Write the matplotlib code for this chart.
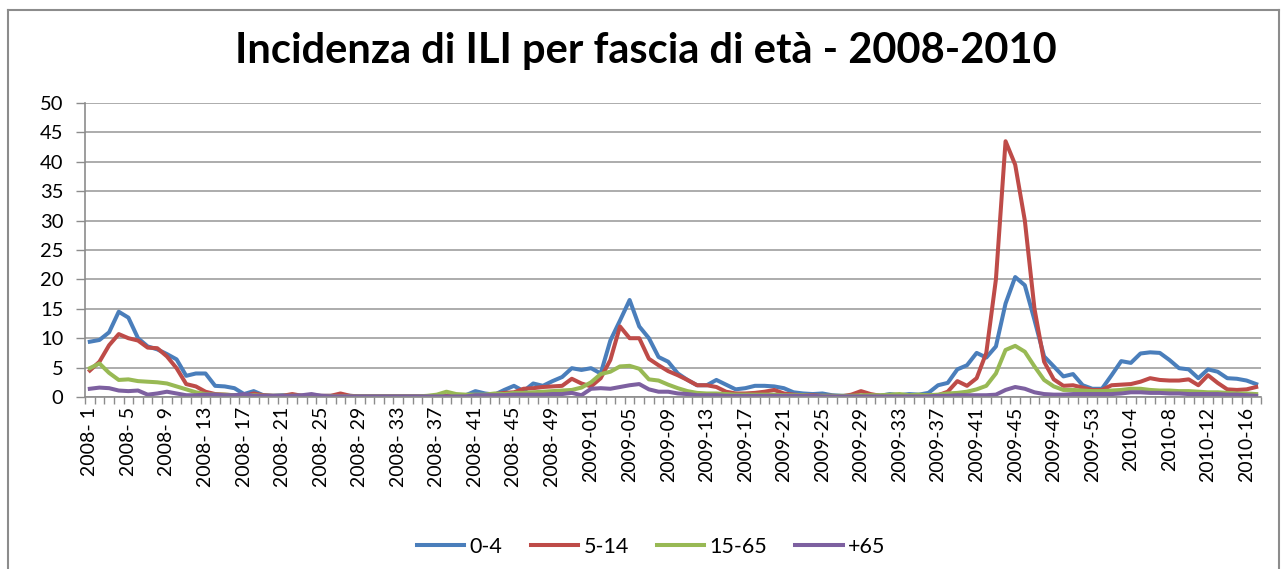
import matplotlib
matplotlib.use("Agg")
import matplotlib.pyplot as plt
from matplotlib.lines import Line2D
import numpy as np

plt.rcParams['font.family'] = ['Lato', 'DejaVu Sans']

# settimane: 2008 (52), 2009 (53), 2010 (17)
weeks = (["2008- %d" % w for w in range(1, 53)]
         + ["2009-%02d" % w for w in range(1, 54)]
         + ["2010-%d" % w for w in range(1, 18)])

eta_0_4 = [
    9.4, 9.7, 11.0, 14.5, 13.5, 10.0, 8.6, 8.1, 7.3, 6.4,
    3.6, 4.0, 4.0, 1.9, 1.8, 1.5, 0.5, 1.0, 0.3, 0.2,
    0.3, 0.2, 0.2, 0.3, 0.2, 0.2, 0.2, 0.2, 0.1, 0.1,
    0.1, 0.1, 0.1, 0.1, 0.1, 0.1, 0.2, 0.2, 0.3, 0.3,
    1.0, 0.6, 0.4, 1.2, 1.9, 1.0, 2.3, 1.9, 2.7, 3.4,
    4.9, 4.6, 4.9, 4.0, 9.6, 13.0, 16.5, 12.0, 10.0, 6.8,
    6.0, 4.0, 2.9, 2.0, 2.0, 2.9, 2.1, 1.3, 1.5, 1.9,
    1.9, 1.8, 1.5, 0.8, 0.6, 0.5, 0.6, 0.3, 0.2, 0.2,
    0.2, 0.3, 0.2, 0.5, 0.3, 0.5, 0.4, 0.7, 2.0, 2.4,
    4.7, 5.4, 7.5, 6.7, 8.6, 15.9, 20.4, 19.0, 13.1, 6.9,
    5.2, 3.5, 3.9, 2.0, 1.4, 1.4, 3.7, 6.1, 5.8, 7.4,
    7.6, 7.5, 6.3, 4.9, 4.7, 3.2, 4.7, 4.3, 3.2, 3.1,
    2.8, 2.2]

eta_5_14 = [
    4.5, 6.0, 8.8, 10.7, 10.0, 9.6, 8.4, 8.3, 6.9, 4.9,
    2.2, 1.8, 0.9, 0.5, 0.4, 0.3, 0.2, 0.6, 0.3, 0.2,
    0.2, 0.5, 0.2, 0.2, 0.2, 0.2, 0.6, 0.2, 0.1, 0.1,
    0.1, 0.1, 0.1, 0.1, 0.1, 0.1, 0.1, 0.2, 0.2, 0.2,
    0.3, 0.3, 0.5, 0.7, 0.8, 1.4, 1.5, 1.7, 1.8, 1.9,
    3.1, 2.3, 1.8, 3.2, 6.3, 12.0, 10.0, 10.0, 6.5, 5.4,
    4.4, 3.7, 2.9, 2.0, 2.0, 1.7, 0.9, 0.6, 0.6, 0.7,
    0.9, 1.2, 0.6, 0.4, 0.3, 0.3, 0.2, 0.2, 0.1, 0.4,
    1.0, 0.5, 0.2, 0.2, 0.2, 0.2, 0.3, 0.3, 0.3, 0.9,
    2.7, 1.9, 3.2, 7.5, 20.0, 43.5, 39.5, 30.0, 15.0, 6.0,
    3.0, 1.9, 2.0, 1.6, 1.2, 1.2, 2.0, 2.1, 2.2, 2.6,
    3.2, 2.9, 2.8, 2.8, 3.0, 2.0, 3.7, 2.4, 1.3, 1.2,
    1.3, 1.7]

eta_15_65 = [
    4.9, 5.7, 4.1, 2.9, 3.0, 2.7, 2.6, 2.5, 2.3, 1.8,
    1.3, 0.8, 0.5, 0.4, 0.4, 0.3, 0.3, 0.3, 0.2, 0.2,
    0.2, 0.2, 0.2, 0.1, 0.1, 0.1, 0.1, 0.1, 0.1, 0.1,
    0.1, 0.1, 0.1, 0.1, 0.1, 0.2, 0.4, 0.9, 0.5, 0.4,
    0.4, 0.4, 0.6, 0.5, 0.7, 0.7, 0.8, 0.9, 1.0, 1.1,
    1.2, 1.6, 2.5, 3.9, 4.3, 5.2, 5.3, 4.8, 3.0, 2.8,
    2.1, 1.5, 1.0, 0.7, 0.6, 0.6, 0.5, 0.4, 0.4, 0.4,
    0.4, 0.4, 0.3, 0.3, 0.3, 0.2, 0.2, 0.2, 0.2, 0.2,
    0.3, 0.3, 0.3, 0.4, 0.5, 0.3, 0.4, 0.3, 0.4, 0.6,
    0.7, 0.9, 1.3, 1.9, 4.0, 8.0, 8.7, 7.7, 5.2, 2.9,
    1.8, 1.2, 1.2, 1.1, 1.0, 1.0, 1.1, 1.2, 1.4, 1.4,
    1.2, 1.1, 1.1, 1.0, 1.0, 0.9, 0.8, 0.8, 0.7, 0.6,
    0.6, 0.5]

eta_65 = [
    1.4, 1.6, 1.5, 1.1, 1.0, 1.1, 0.4, 0.6, 0.9, 0.6,
    0.3, 0.3, 0.4, 0.4, 0.3, 0.3, 0.5, 0.2, 0.2, 0.2,
    0.2, 0.2, 0.3, 0.5, 0.2, 0.1, 0.1, 0.1, 0.1, 0.1,
    0.1, 0.1, 0.1, 0.1, 0.1, 0.1, 0.1, 0.1, 0.1, 0.1,
    0.3, 0.3, 0.3, 0.3, 0.4, 0.4, 0.4, 0.4, 0.5, 0.5,
    0.7, 0.3, 1.4, 1.5, 1.4, 1.7, 2.0, 2.2, 1.3, 0.9,
    0.9, 0.6, 0.5, 0.3, 0.3, 0.3, 0.2, 0.2, 0.2, 0.2,
    0.2, 0.2, 0.2, 0.2, 0.2, 0.2, 0.1, 0.1, 0.1, 0.1,
    0.1, 0.1, 0.1, 0.1, 0.1, 0.1, 0.1, 0.1, 0.2, 0.2,
    0.3, 0.3, 0.3, 0.3, 0.4, 1.2, 1.7, 1.4, 0.8, 0.5,
    0.4, 0.4, 0.5, 0.5, 0.5, 0.5, 0.5, 0.6, 0.8, 0.8,
    0.7, 0.7, 0.6, 0.6, 0.5, 0.5, 0.5, 0.5, 0.4, 0.4,
    0.3, 0.2]

series = [("0-4", eta_0_4, "#4a7ebb"),
          ("5-14", eta_5_14, "#be4b48"),
          ("15-65", eta_15_65, "#98b954"),
          ("+65", eta_65, "#7d60a0")]

fig = plt.figure(figsize=(12.87, 5.69), dpi=100)
ax = fig.add_axes([85 / 1287, 1 - 397 / 569, 1176 / 1287, 294 / 569])

x = np.arange(len(weeks))
for name, vals, col in series:
    ax.plot(x, vals, color=col, lw=2.9, label=name, solid_joinstyle='round')

ax.set_xlim(-0.5, len(weeks) - 0.5)
ax.set_ylim(0, 50)
ax.set_yticks(range(0, 51, 5))
ax.yaxis.grid(True, color="#a6a6a6", lw=1.3)
ax.set_axisbelow(True)

# etichette ogni 4 settimane, tacche ad ogni categoria
ax.set_xticks(x[::4])
ax.set_xticklabels(weeks[::4], rotation=90)
ax.set_xticks(np.arange(-0.5, len(weeks), 1), minor=True)
ax.tick_params(axis='x', which='major', length=0, pad=7, labelsize=14)
ax.tick_params(axis='x', which='minor', length=5, color="#8c8c8c", width=1)
ax.tick_params(axis='y', length=6.5, color="#8c8c8c", width=1, pad=9, labelsize=14.5)

for s in ["top", "right"]:
    ax.spines[s].set_visible(False)
for s in ["left", "bottom"]:
    ax.spines[s].set_color("#8c8c8c")
    ax.spines[s].set_linewidth(1.2)

fig.text(0.502, 0.911, "Incidenza di ILI per fascia di età - 2008-2010",
         ha="center", va="center", fontsize=30, fontweight="bold")

fig.legend(loc="center", bbox_to_anchor=(0.506, 0.039), ncol=4, frameon=False,
           fontsize=15.5, handlelength=2.2, handletextpad=0.25, columnspacing=1.3)

# cornice del grafico
fx0, fy1, fx1 = 8 / 1287, 1 - 10 / 569, 1279 / 1287
for xs, ys in [([fx0, fx0], [0, fy1]), ([fx0, fx1], [fy1, fy1]), ([fx1, fx1], [fy1, 0])]:
    fig.add_artist(Line2D(xs, ys, color="#8c8c8c", lw=1.5, transform=fig.transFigure))

fig.savefig("out.png", dpi=100)
